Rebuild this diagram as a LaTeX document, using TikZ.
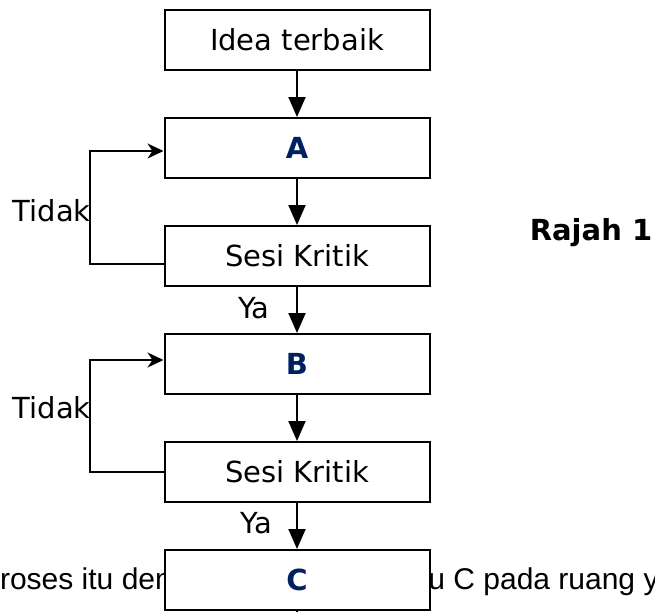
\documentclass[tikz,border=0pt]{standalone}
\usepackage{fontspec}
\setmainfont{DejaVu Sans}
\newfontfamily\arialfont{Liberation Sans}
\usetikzlibrary{positioning,arrows.meta}
\definecolor{hurufbiru}{HTML}{002060}

\begin{document}
\begin{tikzpicture}[x=0.5pt,y=-0.5pt,node distance=23pt]
\tikzset{kotak/.style={draw,fill=white,line width=1pt,minimum width=132.5pt,
                minimum height=30pt,inner sep=0pt,font=\fontsize{14.5}{17}\selectfont},
         huruf/.style={kotak,font=\fontsize{14.5}{17}\selectfont\bfseries,text=hurufbiru},
         teks/.style={inner sep=0pt,font=\fontsize{14.5}{17}\selectfont},
         latar/.style={inner sep=0pt,font=\arialfont\fontsize{15}{18}\selectfont},
         anak/.style={line width=1pt,-{Triangle[width=8.5pt,length=10pt]}},
         balik/.style={line width=1pt,-{Stealth[width=7.5pt,length=8pt,inset=2.5pt]}}}

\clip (0,0) rectangle (655,612);

% teks di belakang
\node[latar,anchor=base west] (kiri) at (-17,589) {proses itu den};
\node[latar,anchor=base west] (kanan) at (428,589) {u C pada ruang yang};

\node[kotak] (idea) at (297,40) {Idea terbaik};
\node[huruf,below=of idea] (A) {A};
\node[kotak,below=of A] (kritikA) {Sesi Kritik};
\node[huruf,below=of kritikA] (B) {B};
\node[kotak,below=of B] (kritikB) {Sesi Kritik};
\node[huruf,below=of kritikB] (C) {C};

\draw[anak] (idea) -- (A);
\draw[anak] (A) -- (kritikA);
\draw[anak] (kritikA) -- (B);
\draw[anak] (B) -- (kritikB);
\draw[anak] (kritikB) -- (C);
\draw[line width=1pt] (C.south) -- ++(0,-10pt);

% gelung
\draw[balik] ([yshift=-4pt]kritikA.west) -- ++(-37pt,0) |- ([yshift=-1.5pt]A.west);
\draw[balik] (kritikB.west) -- ++(-37pt,0) |- ([yshift=2pt]B.west);

\node[teks,anchor=east] (tidakA) at (91,211) {Tidak};
\node[teks,anchor=east] (tidakB) at (91,408) {Tidak};
\node[teks] (yaA) at (254,308) {Ya};
\node[teks] (yaB) at (256,523) {Ya};
\node[teks,font=\fontsize{14.5}{17}\selectfont\bfseries] (rajah) at (591,233) {Rajah 1};
\end{tikzpicture}
\end{document}
